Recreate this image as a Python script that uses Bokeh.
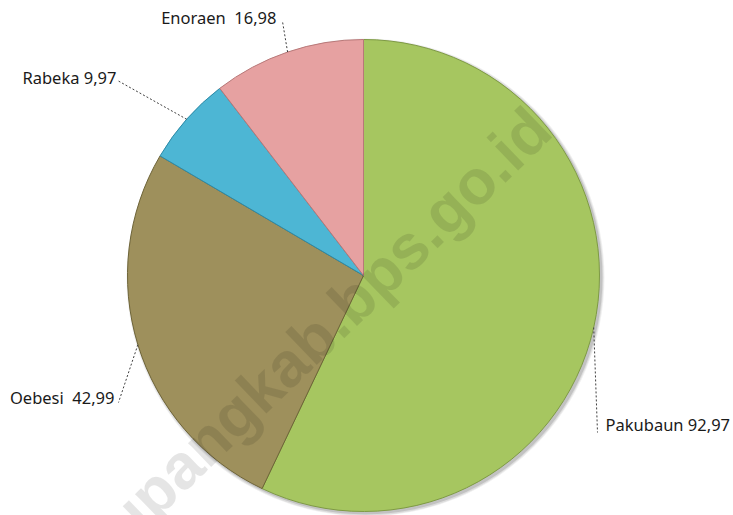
import math
from bokeh.plotting import figure
from bokeh.models import Range1d
from bokeh.core.properties import value
from bokeh.embed import file_html
from bokeh.resources import INLINE

# ---- data ----
names = ["Pakubaun", "Oebesi", "Rabeka", "Enoraen"]
values = [92.97, 42.99, 9.97, 16.98]
gaps = [" ", "\u00a0 ", " ", "\u00a0 "]
labels = [f"{n}{g}{v:.2f}".replace(".", ",") for n, g, v in zip(names, gaps, values)]
colors = ["#A6C660", "#9E905C", "#4DB6D4", "#E6A1A1"]
edge_colors = ["#7E9A44", "#6E6438", "#2E8AA6", "#B87878"]
watermark = "kupangkab.bps.go.id"

# ---- layout (screen px of the 733x515 picture) ----
W, H = 733, 515
def X(sx): return sx
def Y(sy): return H - sy

cx, cy, R = 363, 275, 236
# label anchors (screen): x, y, align ; leader end point (screen)
label_pos = [(605, 424, "left"), (114, 397, "right"), (116, 77, "right"), (276, 17, "right")]
leader_end = [(597, 432), (118, 402), (117, 80), (282, 21)]

p = figure(width=W, height=H, x_range=Range1d(0, W), y_range=Range1d(0, H),
           output_backend="svg", toolbar_location=None,
           x_axis_type=None, y_axis_type=None, min_border=0)
p.grid.visible = False
p.outline_line_color = None
p.background_fill_color = "white"
p.border_fill_color = "white"

# soft shadow
for i, a in enumerate([0.06, 0.08, 0.12]):
    p.circle(x=[X(cx) + 2], y=[Y(cy) - 2], radius=R + 3 - i, fill_color="black",
             fill_alpha=a, line_color=None)

total = sum(values)
cum = 0.0
mids = []
for v, c, ec in zip(values, colors, edge_colors):
    a0 = cum / total * 2 * math.pi
    cum += v
    a1 = cum / total * 2 * math.pi
    mids.append((a0 + a1) / 2)
    p.wedge(x=[X(cx)], y=[Y(cy)], radius=R,
            start_angle=math.pi / 2 - a0, end_angle=math.pi / 2 - a1, direction="clock",
            fill_color=c, line_color=ec, line_width=1)

# leader lines
for m, (ex, ey) in zip(mids, leader_end):
    sx = cx + R * math.sin(m)
    sy = cy - R * math.cos(m)
    p.line(x=[X(sx), X(ex)], y=[Y(sy), Y(ey)], line_color="#404040",
           line_width=1, line_dash="2 2")

# labels
for (lx, ly, al), t in zip(label_pos, labels):
    p.text(x=[X(lx)], y=[Y(ly)], text=[t], text_align=al, text_baseline="middle",
           text_font=value("Noto Sans"), text_font_size="16.5px", text_color="#1a1a1a")

# watermark
p.text(x=[X(313)], y=[Y(337)], text=[watermark], angle=math.radians(44),
       text_align="center", text_baseline="alphabetic",
       text_font=value("Liberation Sans"), text_font_style="bold",
       text_font_size="63px", text_color="black", text_alpha=0.1)

open("out.html", "w").write(file_html(p, INLINE))
